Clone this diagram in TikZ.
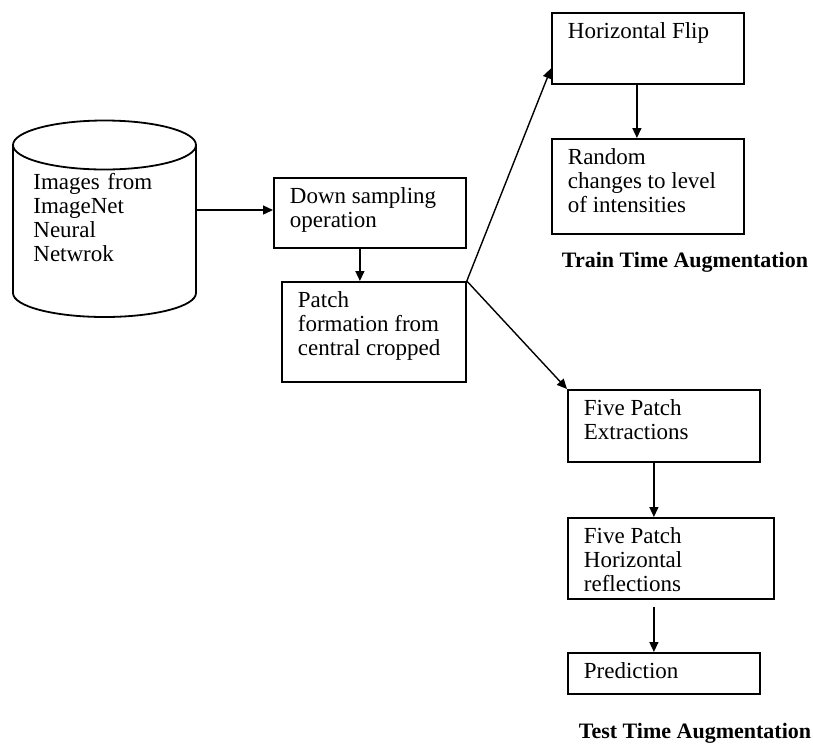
\documentclass[tikz,border=0pt]{standalone}
\usepackage{fontspec}
\setmainfont{Liberation Serif}
\usetikzlibrary{arrows.meta}
\usetikzlibrary{calc}

\tikzset{
  blk/.style={draw, line width=0.9pt, anchor=north west, inner xsep=8pt, inner ysep=5pt,
    font=\fontsize{11.5}{12}\selectfont},
  lnk/.style={-{Triangle[length=5pt,width=4.5pt]}, line width=0.7pt},
  augtitle/.style={font=\fontsize{11}{12}\selectfont\bfseries}
}
\newcommand{\inbox}[3]{\parbox[c][#1][t]{#2}{\raggedright #3}}

\begin{document}
\begin{tikzpicture}[x=0.5pt, y=-0.5pt]
            \useasboundingbox (0,0) rectangle (813,745);
            % database
            \draw[line width=0.9pt] (13,145) -- (13,293)
                arc[start angle=180, end angle=360, x radius=45.75pt, y radius=12pt] -- (196,145);
            \draw[line width=0.9pt] (104.5,145) ellipse [x radius=45.75pt, y radius=12.25pt];
            \node[anchor=north west, inner sep=0pt, align=left, text width=70pt,
                  font=\fontsize{11.5}{12}\selectfont] (db) at (33,173)
                  {Images from\\ImageNet\\Neural\\Netwrok};
            \coordinate (dbout) at (196,210);
            % main chain
            \node[blk] (down) at (273,177) {\inbox{25pt}{80pt}{Down sampling\\operation}};
            \node[blk] (patch) at (281,281) {\inbox{40pt}{76pt}{Patch\\formation from\\central cropped}};
            % train time
            \node[blk] (flip) at (551,12) {\inbox{25.5pt}{80pt}{Horizontal Flip}};
            \node[blk] (rand) at (551,138) {\inbox{37.5pt}{80pt}{Random\\changes to level\\of intensities}};
            \node[augtitle] (train) at (685,262) {Train Time Augmentation};
            % test time
            \node[blk] (five) at (567,389) {\inbox{26pt}{80pt}{Five Patch\\Extractions}};
            \node[blk] (refl) at (567,517) {\inbox{30.5pt}{87pt}{Five Patch\\Horizontal\\reflections}};
            \node[blk] (pred) at (567,652) {\inbox{10.5pt}{80pt}{Prediction}};
            \node[augtitle] (test) at (695,733) {Test Time Augmentation};
            % arrows
            \draw[lnk] (dbout) -- (dbout -| down.west);
            \draw[lnk] ([xshift=-5pt]down.south) -- ([xshift=-5pt]down.south |- patch.north);
            \draw[lnk] (patch.north east) -- ([yshift=-10pt]flip.west);
            \draw[lnk] (patch.north east) -- (five.north west);
            \draw[lnk] ([xshift=-5.5pt]flip.south) -- ([xshift=-5.5pt]flip.south |- rand.north);
            \draw[lnk] ([xshift=-5pt]five.south) -- ([xshift=-5pt]five.south |- refl.north);
            \draw[lnk] ([xshift=-5pt,yshift=-3.5pt]five.south |- refl.south) -- ([xshift=-5pt]five.south |- pred.north);
        \end{tikzpicture}
\end{document}
